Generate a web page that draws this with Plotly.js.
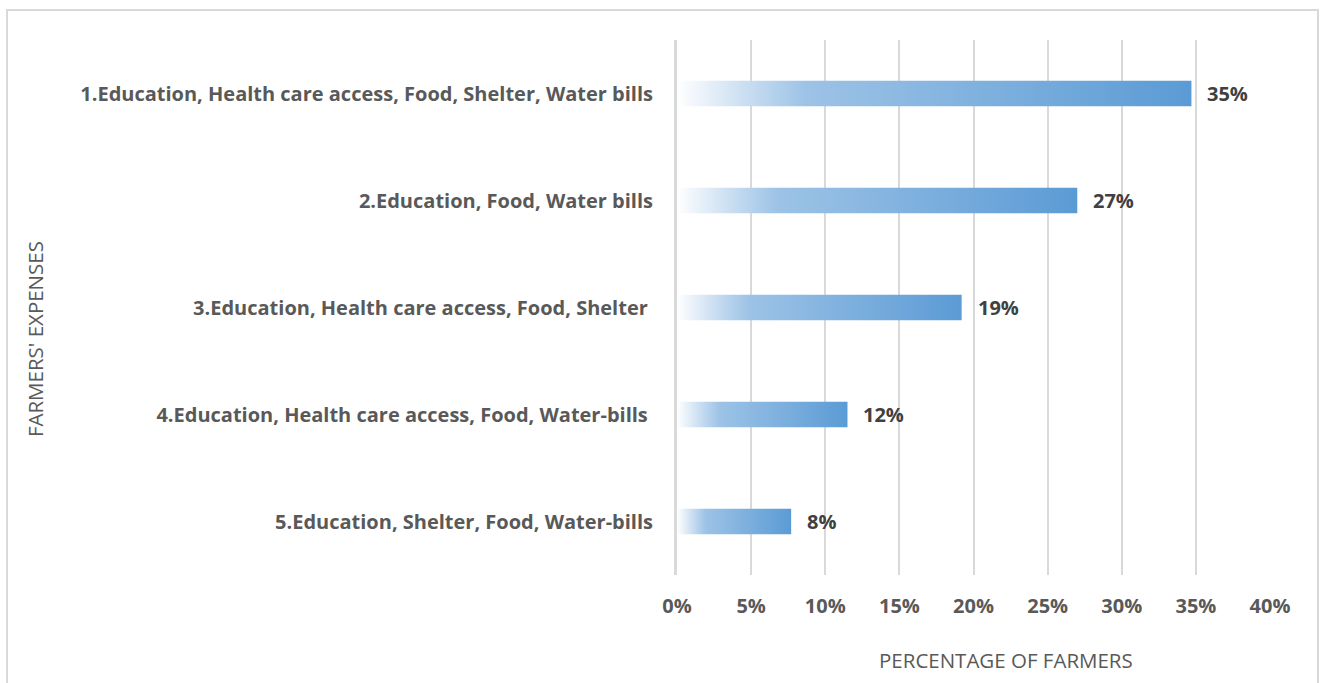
<!DOCTYPE html>
<html>
<head>
<meta charset="utf-8">
<script src="https://cdn.plot.ly/plotly-3.0.1.min.js"></script>
<style>
  html, body { margin: 0; padding: 0; background: #ffffff; }
  #wrap { position: relative; width: 1325px; height: 683px; overflow: hidden; }
  #chart { width: 1325px; height: 683px; }
  #frame { position: absolute; left: 6px; top: 9px; width: 1309px; height: 700px;
           border: 2px solid #d9d9d9; pointer-events: none; }
</style>
</head>
<body>
<div id="wrap">
  <div id="chart"></div>
  <div id="frame"></div>
</div>
<script>
// Data
const categories = [
  "1.Education, Health care access, Food, Shelter, Water bills",
  "2.Education, Food, Water bills",
  "3.Education, Health care access, Food, Shelter ",
  "4.Education, Health care access, Food, Water-bills ",
  "5.Education, Shelter, Food, Water-bills"
];
const values = [34.7, 27.0, 19.2, 11.5, 7.7];
const valueLabels = ["35%", "27%", "19%", "12%", "8%"];
const tickValues = [0, 5, 10, 15, 20, 25, 30, 35, 40];
const tickLabels = ["0%", "5%", "10%", "15%", "20%", "25%", "30%", "35%", "40%"];

const FONT = "'Open Sans', sans-serif";

const trace = {
  type: "bar",
  orientation: "h",
  x: values,
  y: categories,
  width: 0.24,
  marker: { color: "#5b9bd5", line: { width: 0 } },
  hoverinfo: "none"
};

const annotations = values.map((v, i) => ({
  x: v, y: categories[i], xref: "x", yref: "y",
  text: "<b>" + valueLabels[i] + "</b>",
  showarrow: false, xanchor: "left", yanchor: "middle", xshift: 14,
  font: { family: FONT, size: 20, color: "#404040" }
}));

annotations.push({
  x: 0.554, y: -0.159, xref: "paper", yref: "paper",
  text: "PERCENTAGE OF FARMERS", showarrow: false,
  xanchor: "center", yanchor: "middle",
  font: { family: FONT, size: 20.5, color: "#595959" }
});
annotations.push({
  x: -1.0826, y: 0.441, xref: "paper", yref: "paper",
  text: "FARMERS' EXPENSES", showarrow: false, textangle: -90,
  xanchor: "center", yanchor: "middle",
  font: { family: FONT, size: 20.5, color: "#595959" }
});

const layout = {
  width: 1325, height: 683,
  margin: { l: 677, r: 55, t: 40, b: 108 },
  paper_bgcolor: "#ffffff", plot_bgcolor: "#ffffff",
  showlegend: false,
  xaxis: {
    range: [0, 40],
    tickvals: tickValues, ticktext: tickLabels,
    showgrid: true, gridcolor: "#d9d9d9", gridwidth: 2,
    zeroline: false, showline: false,
    ticks: "outside", ticklen: 13, tickcolor: "rgba(0,0,0,0)",
    tickfont: { family: FONT, size: 20, color: "#595959", weight: "bold" },
    fixedrange: true
  },
  yaxis: {
    autorange: "reversed",
    showgrid: false, zeroline: false,
    showline: true, linecolor: "#d9d9d9", linewidth: 3,
    ticks: "outside", ticklen: 17, tickcolor: "rgba(0,0,0,0)",
    tickfont: { family: FONT, size: 20, color: "#595959", weight: "bold" },
    fixedrange: true
  },
  annotations: annotations
};

Plotly.newPlot("chart", [trace], layout, { displayModeBar: false, staticPlot: true }).then(gd => {
  const svg = gd.querySelector("svg.main-svg");
  const ns = "http://www.w3.org/2000/svg";
  let defs = svg.querySelector("defs");
  if (!defs) { defs = document.createElementNS(ns, "defs"); svg.insertBefore(defs, svg.firstChild); }
  const grad = document.createElementNS(ns, "linearGradient");
  grad.setAttribute("id", "barGrad");
  grad.setAttribute("x1", "0"); grad.setAttribute("y1", "0");
  grad.setAttribute("x2", "1"); grad.setAttribute("y2", "0");
  [["0", "#ffffff"], ["0.12", "#cfe1f3"], ["0.25", "#9dc3e6"], ["1", "#5b9bd5"]].forEach(([o, c]) => {
    const s = document.createElementNS(ns, "stop");
    s.setAttribute("offset", o); s.setAttribute("stop-color", c);
    grad.appendChild(s);
  });
  defs.appendChild(grad);
  gd.querySelectorAll(".barlayer .point path").forEach(p => {
    p.style.fill = "url(#barGrad)";
  });
});
</script>
</body>
</html>
